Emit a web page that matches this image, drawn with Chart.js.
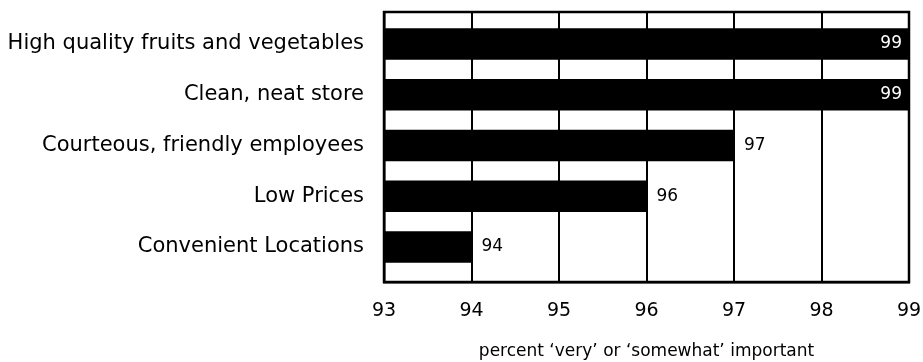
<!DOCTYPE html>
<html>
<head>
<meta charset="utf-8">
<script src="https://cdn.jsdelivr.net/npm/chart.js@4"></script>
<style>
html,body{margin:0;padding:0;background:#fff;}
#wrap{width:923px;height:362px;}
</style>
</head>
<body>
<div id="wrap"><canvas id="c" width="923" height="362"></canvas></div>
<script>
const categories = ["High quality fruits and vegetables","Clean, neat store","Courteous, friendly employees","Low Prices","Convenient Locations"];
const values = [99, 99, 97, 96, 94];
const xTicks = [93, 94, 95, 96, 97, 98, 99];
const xTitle = "percent \u2018very\u2019 or \u2018somewhat\u2019 important";

const FONT = "'DejaVu Sans', sans-serif";

const boxPlugin = {
  id: 'box',
  afterDatasetsDraw(chart) {
    const {ctx, chartArea: a} = chart;
    ctx.save();
    ctx.strokeStyle = '#000';
    ctx.lineWidth = 2.5;
    ctx.strokeRect(a.left, a.top, a.right - a.left, a.bottom - a.top);
    ctx.restore();
  }
};

const labelPlugin = {
  id: 'vlabels',
  afterDatasetsDraw(chart) {
    const {ctx} = chart;
    const meta = chart.getDatasetMeta(0);
    const xs = chart.scales.x;
    ctx.save();
    ctx.font = "17px " + FONT;
    ctx.textBaseline = 'middle';
    meta.data.forEach((bar, i) => {
      const v = values[i];
      if (v >= xs.max) {
        ctx.fillStyle = '#fff';
        ctx.textAlign = 'right';
        ctx.fillText(String(v), bar.x - 7, bar.y);
      } else {
        ctx.fillStyle = '#000';
        ctx.textAlign = 'left';
        ctx.fillText(String(v), bar.x + 10, bar.y);
      }
    });
    ctx.restore();
  }
};

new Chart(document.getElementById('c'), {
  type: 'bar',
  data: {
    datasets: [{
      data: values.map((v, i) => ({x: v, y: i})),
      backgroundColor: '#000',
      borderWidth: 0,
      barThickness: 31
    }]
  },
  options: {
    indexAxis: 'y',
    responsive: false,
    animation: false,
    layout: {padding: {left: 0, right: 14, top: 12, bottom: 0}},
    plugins: {legend: {display: false}, tooltip: {enabled: false}},
    scales: {
      x: {
        type: 'linear',
        min: xTicks[0],
        max: xTicks[xTicks.length - 1],
        afterBuildTicks(s) { s.ticks = xTicks.map(v => ({value: v})); },
        afterFit(s) { s.height = 80; s.paddingLeft = 0; s.paddingRight = 0; },
        grid: {color: '#000', lineWidth: 2, drawTicks: false},
        border: {display: true, color: '#000', width: 2.5},
        ticks: {color: '#000', font: {family: FONT, size: 19}, padding: 18, maxRotation: 0},
        title: {display: true, text: xTitle, color: '#000', font: {family: FONT, size: 17}, padding: {top: 13, bottom: 0}}
      },
      y: {
        type: 'linear',
        offset: false,
        reverse: true,
        min: -0.63,
        max: 4.69,
        afterBuildTicks(s) { s.ticks = categories.map((c, i) => ({value: i})); },
        afterFit(s) { s.width = 384; s.paddingTop = 0; s.paddingBottom = 0; },
        grid: {display: false, drawTicks: false},
        border: {display: true, color: '#000', width: 2.5},
        ticks: {color: '#000', font: {family: FONT, size: 21}, padding: 20,
          callback: (v) => categories[v] !== undefined ? categories[v] : ''}
      }
    }
  },
  plugins: [boxPlugin, labelPlugin]
});
</script>
</body>
</html>
